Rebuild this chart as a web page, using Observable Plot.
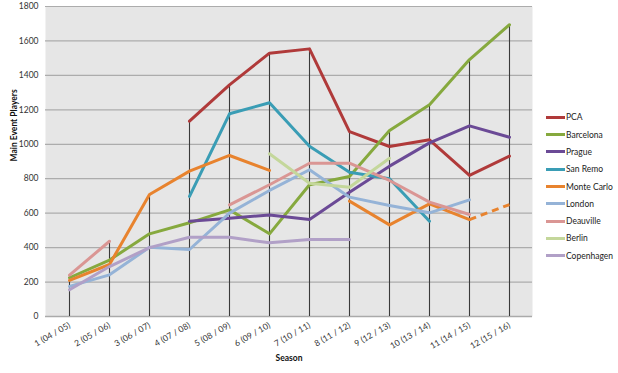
<!DOCTYPE html>
<html><head><meta charset="utf-8">
<script src="https://cdn.jsdelivr.net/npm/d3@7"></script>
<script src="https://cdn.jsdelivr.net/npm/@observablehq/plot@0.6"></script>
<style>
body{margin:0;background:#fff;font-family:Lato,"Open Sans",sans-serif;}
#wrap{position:relative;width:618px;height:373px;}
#legend{position:absolute;left:546px;top:108.7px;font-size:8.5px;color:#222;}
.item{display:flex;align-items:center;height:17.3px;white-space:nowrap;}
.sw{width:19px;height:3px;margin-right:1px;}
</style></head><body><div id="wrap"><div id="chart"></div><div id="legend"></div></div>
<script>
const seasons = ["1 (04 / 05)","2 (05 / 06)","3 (06 / 07)","4 (07 / 08)","5 (08 / 09)","6 (09 / 10)","7 (10 / 11)","8 (11 / 12)","9 (12 / 13)","10 (13 / 14)","11 (14 / 15)","12 (15 / 16)"];
const seriesNames = ["PCA","Barcelona","Prague","San Remo","Monte Carlo","London","Deauville","Berlin","Copenhagen"];
const seriesColors = ["#B03A3A","#86A93E","#6B4A96","#3A9DB5","#E8832E","#95B3D7","#DA9694","#C4D79B","#B1A0C7"];
const yTicks = [0,200,400,600,800,1000,1200,1400,1600,1800];

const pca        = [null,null,null,1134,1345,1529,1554,1074,987,1026,819,931];
const barcelona  = [225,328,480,544,619,480,765,813,1080,1229,1492,1694];
const prague     = [null,null,null,553,571,590,563,722,873,1008,1107,1041];
const sanRemo    = [null,null,null,697,1177,1241,989,838,800,553,null,null];
const monteCarlo = [210,302,708,844,935,848,null,670,532,654,563,null];
const monteCarloProjected = [null,null,null,null,null,null,null,null,null,null,563,650];
const london     = [175,242,402,389,600,732,852,693,645,602,677,null];
const deauville  = [240,437,null,null,648,765,890,890,790,664,592,null];
const berlin     = [null,null,null,null,null,945,774,751,919,null,null,null];
const copenhagen = [155,290,400,460,460,428,447,447,null,null,null,null];

const seriesValues = [pca,barcelona,prague,sanRemo,monteCarlo,london,deauville,berlin,copenhagen];

const rows = [];
seriesNames.forEach((name,k)=>{
  seriesValues[k].forEach((v,i)=>rows.push({series:name, season:seasons[i], value:v}));
});
const projRows = monteCarloProjected.map((v,i)=>({series:"Monte Carlo", season:seasons[i], value:v})).filter(d=>d.value!=null);
const drops = seasons.map((s,i)=>({season:s, max:d3.max(seriesValues.map(a=>a[i]).concat([monteCarloProjected[i]]))}));

const chart = Plot.plot({
  width:618, height:373, marginLeft:45, marginRight:86, marginTop:6, marginBottom:57,
  style:{fontFamily:"Lato, 'Open Sans', sans-serif", fontSize:"8.5px", color:"#333", background:"transparent"},
  x:{type:"point", domain:seasons, padding:0.5},
  y:{domain:[0,1800]},
  color:{domain:seriesNames, range:seriesColors},
  marks:[
    Plot.frame({fill:"#e6e6e6", stroke:null}),
    Plot.gridY(yTicks,{stroke:"#acacac", strokeOpacity:1, strokeWidth:1.2}),
    Plot.ruleY([0],{stroke:"#aaa", strokeWidth:1.5}),
    Plot.ruleX(drops,{x:"season", y1:0, y2:"max", stroke:"#3a3a3a", strokeWidth:1.1}),
    Plot.line(rows,{x:"season", y:"value", z:"series", stroke:"series", strokeWidth:3}),
    Plot.line(projRows,{x:"season", y:"value", stroke:"series", strokeWidth:3, strokeDasharray:"7,5", strokeLinecap:"butt"}),
    Plot.axisY(yTicks,{tickSize:0, tickPadding:7, label:null, tickFormat:d3.format("d")}),
    Plot.axisX({tickRotate:-30, tickSize:0, tickPadding:8, label:null}),
    Plot.text(["Main Event Players"],{frameAnchor:"left", dx:-31, rotate:-90, fontWeight:"bold", fill:"#111"}),
    Plot.text(["Season"],{frameAnchor:"bottom", dy:44, fontWeight:"bold", fill:"#111"})
  ]
});
document.getElementById("chart").appendChild(chart);

const legend = document.getElementById("legend");
seriesNames.forEach((n,k)=>{
  const it = document.createElement("div"); it.className="item";
  const sw = document.createElement("span"); sw.className="sw"; sw.style.background=seriesColors[k];
  const tx = document.createElement("span"); tx.textContent=n;
  it.appendChild(sw); it.appendChild(tx); legend.appendChild(it);
});
</script></body></html>
